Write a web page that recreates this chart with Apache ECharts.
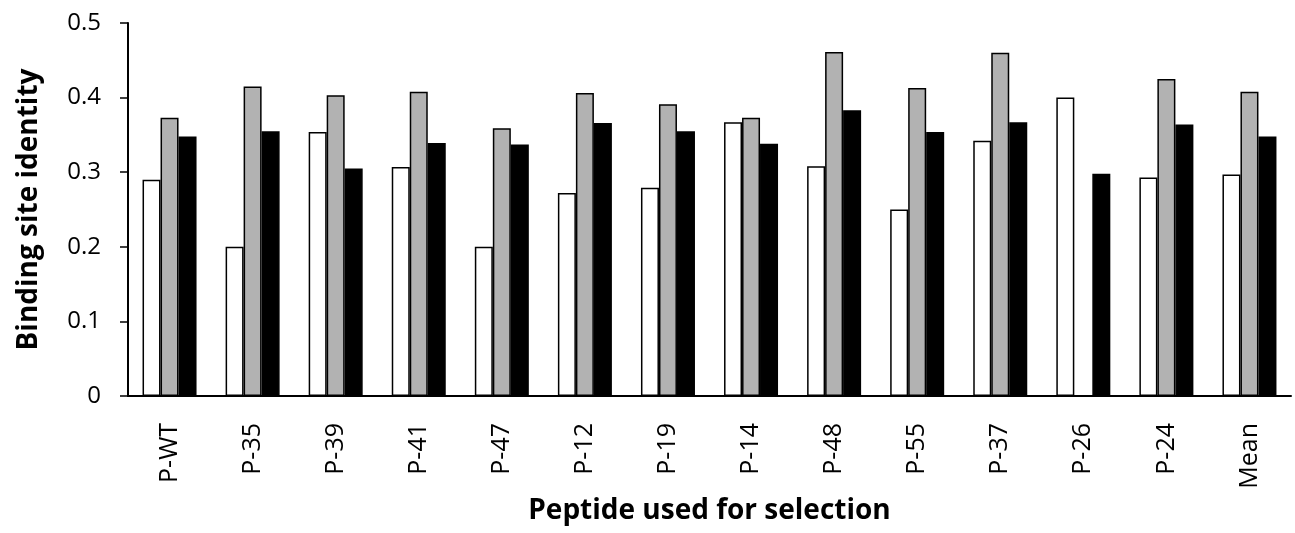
<!DOCTYPE html>
<html>
<head>
<meta charset="utf-8">
<script src="https://cdn.jsdelivr.net/npm/echarts@6/dist/echarts.min.js"></script>
<style>
  html, body { margin: 0; padding: 0; background: #fff; }
  #chart { width: 1295px; height: 533px; }
</style>
</head>
<body>
<div id="chart"></div>
<script>
const categories = ["P-WT", "P-35", "P-39", "P-41", "P-47", "P-12", "P-19", "P-14", "P-48", "P-55", "P-37", "P-26", "P-24", "Mean"];
const whiteValues = [0.290, 0.200, 0.354, 0.307, 0.200, 0.272, 0.279, 0.367, 0.308, 0.250, 0.342, 0.400, 0.293, 0.297];
const grayValues  = [0.373, 0.415, 0.403, 0.408, 0.359, 0.406, 0.391, 0.373, 0.461, 0.413, 0.460, 0,     0.425, 0.408];
const blackValues = [0.348, 0.355, 0.305, 0.339, 0.337, 0.366, 0.355, 0.338, 0.383, 0.354, 0.367, 0.298, 0.364, 0.348];

const font = "'Open Sans', 'Noto Sans', sans-serif";

const chart = echarts.init(document.getElementById("chart"));

const barSeries = (data, fill) => ({
  type: "bar",
  data: data,
  barWidth: 18,
  barGap: "0%",
  itemStyle: { color: fill, borderColor: "#000", borderWidth: 1.5 },
  emphasis: { disabled: true }
});

chart.setOption({
  animation: false,
  grid: { left: 128, right: 4, top: 23, bottom: 137 },
  xAxis: {
    type: "category",
    data: categories,
    axisLine: { lineStyle: { color: "#000", width: 2 } },
    axisTick: { show: false },
    axisLabel: {
      rotate: 90,
      margin: 27,
      color: "#000",
      fontSize: 25,
      fontFamily: font
    },
    name: "Peptide used for selection",
    nameLocation: "middle",
    nameGap: 100,
    nameTextStyle: { color: "#000", fontSize: 28, fontWeight: "bold", fontFamily: font }
  },
  yAxis: {
    type: "value",
    min: 0,
    max: 0.5,
    interval: 0.1,
    splitLine: { show: false },
    axisLine: { show: true, lineStyle: { color: "#000", width: 2 } },
    axisTick: { show: true, length: 8, lineStyle: { color: "#000", width: 1.5 } },
    axisLabel: {
      margin: 27,
      color: "#000",
      fontSize: 24,
      fontFamily: font,
      formatter: (v) => (v === 0 ? "0" : v.toFixed(1))
    },
    name: "Binding site identity",
    nameLocation: "middle",
    nameGap: 85,
    nameTextStyle: { color: "#000", fontSize: 28, fontWeight: "bold", fontFamily: font }
  },
  series: [
    barSeries(whiteValues, "#ffffff"),
    barSeries(grayValues, "#b2b2b2"),
    barSeries(blackValues, "#000000")
  ]
});
</script>
</body>
</html>
